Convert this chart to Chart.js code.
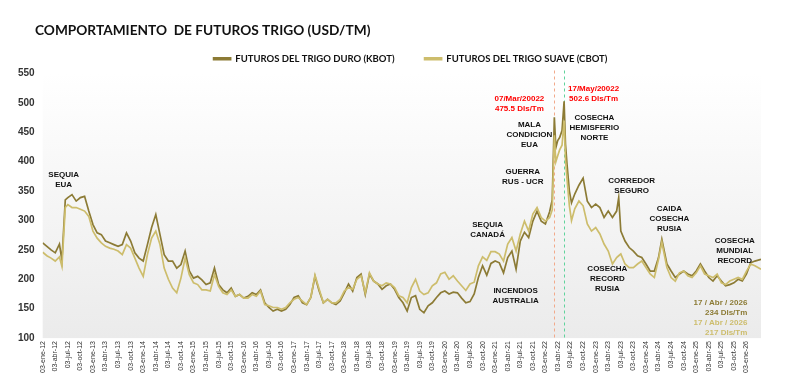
<!DOCTYPE html>
<html><head><meta charset="utf-8">
<script src="https://cdn.jsdelivr.net/npm/chart.js@4.4.1/dist/chart.umd.min.js"></script>
<style>html,body{margin:0;padding:0;background:#fff;}</style>
</head><body>
<canvas id="c" width="800" height="380"></canvas>
<script>
const fechas = [
'2012-01-03','2012-02-03','2012-03-03','2012-04-03','2012-05-03','2012-05-21','2012-06-15','2012-07-03','2012-08-03','2012-09-03','2012-10-03','2012-11-03','2012-12-03',
'2013-01-03','2013-02-03','2013-03-03','2013-04-03','2013-05-03','2013-06-03','2013-07-03','2013-08-03','2013-09-03','2013-10-03','2013-11-03','2013-12-03',
'2014-01-03','2014-02-03','2014-03-03','2014-04-03','2014-05-03','2014-06-03','2014-07-03','2014-08-03','2014-09-03','2014-10-03','2014-11-03','2014-12-03',
'2015-01-03','2015-02-03','2015-03-03','2015-04-03','2015-05-03','2015-06-03','2015-07-03','2015-08-03','2015-09-03','2015-10-03','2015-11-03','2015-12-03',
'2016-01-03','2016-02-03','2016-03-03','2016-04-03','2016-05-03','2016-06-03','2016-07-03','2016-08-03','2016-09-03','2016-10-03','2016-11-03','2016-12-03',
'2017-01-03','2017-02-03','2017-03-03','2017-04-03','2017-05-03','2017-06-03','2017-07-03','2017-08-03','2017-09-03','2017-10-03','2017-11-03','2017-12-03',
'2018-01-03','2018-02-03','2018-03-03','2018-04-03','2018-05-03','2018-06-03','2018-07-03','2018-08-03','2018-09-03','2018-10-03','2018-11-03','2018-12-03',
'2019-01-03','2019-02-03','2019-03-03','2019-04-03','2019-05-03','2019-06-03','2019-07-03','2019-08-03','2019-09-03','2019-10-03','2019-11-03','2019-12-03',
'2020-01-03','2020-02-03','2020-03-03','2020-04-03','2020-05-03','2020-06-03','2020-07-03','2020-08-03','2020-09-03','2020-10-03','2020-11-03','2020-12-03',
'2021-01-03','2021-02-03','2021-03-03','2021-04-03','2021-05-03','2021-06-03','2021-07-03','2021-08-03','2021-09-03','2021-10-03','2021-11-03','2021-12-03',
'2022-01-03','2022-02-03','2022-02-22','2022-03-07','2022-03-18','2022-04-01','2022-04-15','2022-05-02','2022-05-17','2022-05-27','2022-06-08','2022-06-25','2022-07-10','2022-08-03','2022-09-03','2022-10-03','2022-11-03','2022-12-03',
'2023-01-03','2023-02-03','2023-03-03','2023-04-03','2023-05-03','2023-06-03','2023-06-18','2023-07-03','2023-08-03','2023-09-03','2023-10-03','2023-11-03','2023-12-03',
'2024-01-03','2024-02-03','2024-03-03','2024-04-03','2024-04-27','2024-06-03','2024-07-03','2024-08-03','2024-09-03','2024-10-03','2024-11-03','2024-12-03',
'2025-01-03','2025-02-03','2025-03-03','2025-04-03','2025-05-03','2025-06-03','2025-07-03','2025-08-03','2025-09-03','2025-10-03','2025-11-03','2025-12-03',
'2026-01-03','2026-02-03','2026-03-03','2026-04-17'
];
const kbot = [
262,256,250,245,260,232,335,339,344,333,339,341,316,
293,279,276,265,262,259,256,259,279,265,245,236,
231,259,288,310,276,242,231,231,219,225,248,214,
202,205,199,191,194,219,191,182,177,185,171,174,
168,171,177,174,182,160,152,146,149,146,149,157,
169,172,160,157,169,205,180,160,166,160,157,163,
177,192,180,203,209,174,209,197,192,183,189,192,
183,169,160,146,169,172,149,143,155,160,169,177,
180,175,178,177,168,160,162,175,203,223,207,227,
231,228,211,237,248,217,265,280,271,299,316,299,
294,315,335,475.5,424,436,441,453,502.6,430,395,350,330,345,360,372,333,322,
328,322,305,316,305,316,339,282,265,254,248,240,237,
226,214,214,237,268,226,214,203,209,214,209,206,
214,226,214,203,197,206,197,189,191,194,200,197,
209,228,231,234
];
const cbot = [
246,240,236,231,238,222,322,327,322,322,319,316,307,
282,270,262,256,253,251,248,242,259,253,236,219,
205,242,270,282,259,219,200,185,177,202,236,208,
194,191,182,182,180,208,188,177,174,182,171,174,
168,168,174,171,180,157,155,152,152,149,152,160,
166,169,163,157,169,207,183,160,166,160,160,166,
180,186,183,200,206,177,211,197,192,189,194,192,
186,172,169,160,186,200,180,174,177,189,194,209,
212,200,206,197,189,181,192,195,223,238,232,247,
247,243,231,260,271,248,277,299,282,311,322,305,
299,305,318,445,400,410,420,428,470,405,370,325,300,320,333,325,294,282,
288,277,260,248,226,237,240,243,226,220,220,226,231,
220,209,203,234,263,220,203,197,211,214,206,203,
211,223,209,206,203,209,194,191,197,200,203,200,
214,226,223,217
];
const tickLabels = [
'03-ene-12','03-abr-12','03-jul-12','03-oct-12','03-ene-13','03-abr-13','03-jul-13','03-oct-13',
'03-ene-14','03-abr-14','03-jul-14','03-oct-14','03-ene-15','03-abr-15','03-jul-15','03-oct-15',
'03-ene-16','03-abr-16','03-jul-16','03-oct-16','03-ene-17','03-abr-17','03-jul-17','03-oct-17',
'03-ene-18','03-abr-18','03-jul-18','03-oct-18','03-ene-19','03-abr-19','03-jul-19','03-oct-19',
'03-ene-20','03-abr-20','03-jul-20','03-oct-20','03-ene-21','03-abr-21','03-jul-21','03-oct-21',
'03-ene-22','03-abr-22','03-jul-22','03-oct-22','03-ene-23','03-abr-23','03-jul-23','03-oct-23',
'03-ene-24','03-abr-24','03-jul-24','03-oct-24','03-ene-25','03-abr-25','03-jul-25','03-oct-25',
'03-ene-26'
];
const serieNombres = ['FUTUROS DEL TRIGO DURO (KBOT)', 'FUTUROS DEL TRIGO SUAVE (CBOT)'];
const titulo = 'COMPORTAMIENTO  DE FUTUROS TRIGO (USD/TM)';
const eventos = [
  {fecha:'2022-03-07', color:'#f2a98a'},
  {fecha:'2022-05-17', color:'#5fd39c'}
];
const notas = [
  {lineas:['SEQUIA','EUA'], fecha:'2012-06-03', valor:369, color:'#111', align:'center'},
  {lineas:['MALA','CONDICION','EUA'], fecha:'2021-09-09', valor:446, color:'#111', align:'center'},
  {lineas:['GUERRA','RUS - UCR'], fecha:'2021-07-21', valor:374, color:'#111', align:'center'},
  {lineas:['SEQUIA','CANADÁ'], fecha:'2020-11-09', valor:284, color:'#111', align:'center'},
  {lineas:['INCENDIOS','AUSTRALIA'], fecha:'2021-05-30', valor:172, color:'#111', align:'center'},
  {lineas:['COSECHA','HEMISFERIO','NORTE'], fecha:'2022-12-24', valor:457, color:'#111', align:'center'},
  {lineas:['CORREDOR','SEGURO'], fecha:'2023-09-21', valor:359, color:'#111', align:'center'},
  {lineas:['CAIDA','COSECHA','RUSIA'], fecha:'2024-06-21', valor:303, color:'#111', align:'center'},
  {lineas:['COSECHA','RECORD','RUSIA'], fecha:'2023-03-27', valor:201, color:'#111', align:'center'},
  {lineas:['COSECHA','MUNDIAL','RECORD'], fecha:'2025-10-09', valor:249, color:'#111', align:'center'},
  {lineas:['07/Mar/20022','475.5 Dls/Tm'], fecha:'2021-06-27', valor:499, color:'#ff0000', align:'center'},
  {lineas:['17/May/20022','502.6 Dls/Tm'], fecha:'2022-12-18', valor:516, color:'#ff0000', align:'center'},
  {lineas:['17 / Abr / 2026','234 Dls/Tm'], fecha:'2026-01-09', valor:151, color:'#8c7b35', align:'right'},
  {lineas:['17 / Abr / 2026','217 Dls/Tm'], fecha:'2026-01-09', valor:118, color:'#cdbd6c', align:'right'}
];

function mIdx(s){
  const p = s.split('-').map(Number);
  return (p[0]-2012)*12 + (p[1]-1) + (p[2]-3)/30.44;
}
const colorDuro = '#8c7b35';
const colorSuave = '#cdbd6c';

const fondo = {
  id:'fondo',
  afterLayout(chart){
    if (chart.legend) { chart.legend.left += 25; chart.legend.right += 25; }
  },
  beforeDatasetsDraw(chart){
    const {ctx, chartArea:a} = chart;
    const g = ctx.createLinearGradient(0, a.top, 0, a.bottom);
    g.addColorStop(0, '#ffffff');
    g.addColorStop(1, '#ebebeb');
    ctx.save();
    ctx.fillStyle = g;
    ctx.fillRect(a.left, a.top, a.right - a.left, a.bottom - a.top);
    const xs = chart.scales.x;
    ctx.setLineDash([3,3]);
    ctx.lineWidth = 1;
    eventos.forEach(e => {
      const x = Math.round(xs.getPixelForValue(mIdx(e.fecha))) + 0.5;
      ctx.strokeStyle = e.color;
      ctx.beginPath();
      ctx.moveTo(x, a.top - 3);
      ctx.lineTo(x, a.bottom);
      ctx.stroke();
    });
    ctx.restore();
  }
};
const textos = {
  id:'textos',
  afterDatasetsDraw(chart){
    const {ctx} = chart;
    const xs = chart.scales.x, ys = chart.scales.y;
    ctx.save();
    ctx.font = 'bold 8px "Liberation Sans", Arial, sans-serif';
    ctx.textBaseline = 'middle';
    notas.forEach(n => {
      const x = xs.getPixelForValue(mIdx(n.fecha));
      const y = ys.getPixelForValue(n.valor);
      const lh = 10;
      const y0 = y - (n.lineas.length - 1) * lh / 2;
      ctx.fillStyle = n.color;
      ctx.textAlign = n.align;
      n.lineas.forEach((t, i) => ctx.fillText(t, x, y0 + i * lh));
    });
    ctx.restore();
  },
  afterDraw(chart){
    const {ctx} = chart;
    ctx.save();
    ctx.font = 'bold 13.7px Lato, "Liberation Sans", sans-serif';
    ctx.fillStyle = '#111';
    ctx.textAlign = 'left';
    ctx.textBaseline = 'middle';
    ctx.fillText(titulo, 35, 31);
    ctx.restore();
  }
};

new Chart(document.getElementById('c'), {
  type:'line',
  data:{
    datasets:[
      {label:serieNombres[0], data:fechas.map((f,i)=>({x:mIdx(f), y:kbot[i]})), borderColor:colorDuro, backgroundColor:colorDuro, borderWidth:1.7, pointRadius:0, tension:0, order:1},
      {label:serieNombres[1], data:fechas.map((f,i)=>({x:mIdx(f), y:cbot[i]})), borderColor:colorSuave, backgroundColor:colorSuave, borderWidth:1.7, pointRadius:0, tension:0, order:0}
    ]
  },
  options:{
    responsive:false,
    animation:false,
    layout:{padding:{top:24, left:10, right:39, bottom:4}},
    plugins:{
      legend:{
        position:'top',
        labels:{boxWidth:17, boxHeight:2, padding:30, color:'#111',
          font:{family:'Lato', weight:'bold', size:9.5},
          sort:(a,b)=>a.datasetIndex-b.datasetIndex}
      },
      title:{display:false},
      tooltip:{enabled:false}
    },
    scales:{
      x:{
        type:'linear',
        min:mIdx(fechas[0]),
        max:mIdx(fechas[fechas.length-1]),
        afterBuildTicks(scale){ scale.ticks = tickLabels.map((l,i)=>({value:i*3})); },
        ticks:{autoSkip:false, minRotation:90, maxRotation:90, padding:3, color:'#333',
          font:{family:'Liberation Sans', size:7},
          callback:(v)=>tickLabels[Math.round(v/3)] || ''},
        grid:{display:false, drawTicks:false},
        border:{display:false}
      },
      y:{
        min:100, max:550,
        ticks:{stepSize:50, padding:8, color:'#333', font:{family:'Liberation Sans', size:10, weight:'bold'}},
        grid:{display:false, drawTicks:false},
        border:{display:false}
      }
    }
  },
  plugins:[fondo, textos]
});
</script>
</body></html>
